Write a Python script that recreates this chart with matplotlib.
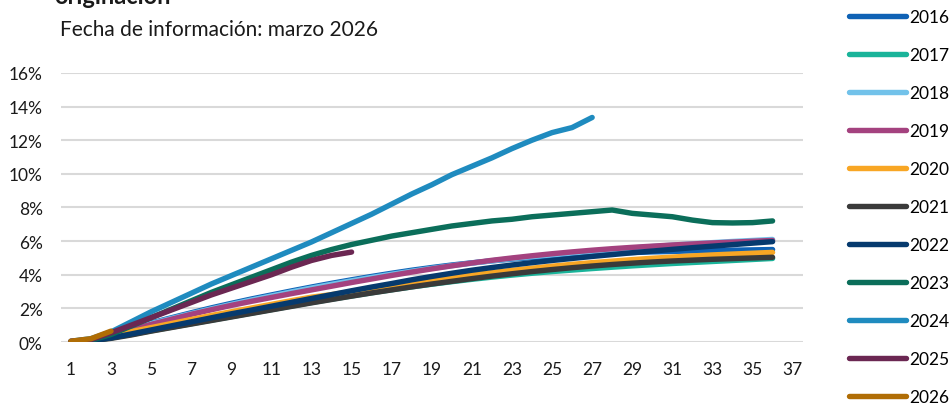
import matplotlib.pyplot as plt
from matplotlib.ticker import FuncFormatter

plt.rcParams['font.family'] = ['Lato', 'DejaVu Sans']

# meses desde originacion
months = list(range(1, 37))
years = ['2016', '2017', '2018', '2019', '2020', '2021', '2022', '2023', '2024', '2025', '2026']
colors = ['#0f62b5', '#1ab49a', '#72c2ea', '#a4427f', '#f8a624', '#3a3a3a',
          '#063a6e', '#0b6e5a', '#1f8bbf', '#6b2752', '#b06d05']

# valores en %
v2016 = [0.0, 0.15, 0.5, 0.82, 1.13, 1.44, 1.74, 2.03, 2.3, 2.56, 2.8, 3.04, 3.27, 3.49, 3.7, 3.9,
         4.09, 4.27, 4.43, 4.58, 4.71, 4.83, 4.93, 5.02, 5.1, 5.17, 5.23, 5.28, 5.32, 5.36, 5.39,
         5.42, 5.44, 5.46, 5.48, 5.5]
v2017 = [0.0, 0.08, 0.25, 0.45, 0.67, 0.88, 1.09, 1.3, 1.51, 1.72, 1.93, 2.14, 2.35, 2.55, 2.74,
         2.93, 3.11, 3.28, 3.44, 3.59, 3.73, 3.86, 3.98, 4.09, 4.19, 4.28, 4.37, 4.45, 4.53, 4.6,
         4.67, 4.73, 4.79, 4.85, 4.91, 4.97]
v2018 = [0.0, 0.15, 0.48, 0.8, 1.1, 1.4, 1.69, 1.97, 2.24, 2.5, 2.74, 2.98, 3.21, 3.43, 3.64, 3.84,
         4.03, 4.21, 4.38, 4.54, 4.69, 4.83, 4.96, 5.08, 5.19, 5.3, 5.4, 5.5, 5.59, 5.68, 5.76,
         5.84, 5.91, 5.98, 6.04, 6.1]
v2019 = [0.0, 0.15, 0.45, 0.75, 1.05, 1.35, 1.65, 1.92, 2.18, 2.42, 2.65, 2.88, 3.1, 3.32, 3.54,
         3.75, 3.96, 4.16, 4.35, 4.53, 4.7, 4.86, 5.0, 5.13, 5.25, 5.36, 5.46, 5.55, 5.63, 5.7,
         5.77, 5.83, 5.89, 5.94, 5.99, 6.04]
v2020 = [0.0, 0.12, 0.38, 0.62, 0.86, 1.1, 1.34, 1.58, 1.8, 2.02, 2.24, 2.46, 2.67, 2.82, 3.0,
         3.18, 3.35, 3.52, 3.68, 3.84, 3.99, 4.13, 4.26, 4.39, 4.51, 4.62, 4.72, 4.81, 4.9, 4.98,
         5.05, 5.12, 5.18, 5.23, 5.28, 5.33]
v2021 = [0.0, 0.08, 0.22, 0.42, 0.65, 0.86, 1.07, 1.28, 1.49, 1.7, 1.91, 2.12, 2.33, 2.53, 2.73,
         2.92, 3.1, 3.28, 3.45, 3.61, 3.77, 3.92, 4.06, 4.19, 4.31, 4.42, 4.52, 4.61, 4.69, 4.76,
         4.82, 4.87, 4.92, 4.96, 5.0, 5.04]
v2022 = [0.0, 0.08, 0.25, 0.48, 0.72, 0.96, 1.2, 1.44, 1.68, 1.9, 2.13, 2.36, 2.59, 2.82, 3.05,
         3.27, 3.48, 3.7, 3.9, 4.09, 4.27, 4.43, 4.58, 4.72, 4.85, 4.97, 5.09, 5.2, 5.31, 5.41,
         5.51, 5.61, 5.7, 5.79, 5.88, 5.97]
v2023 = [0.0, 0.1, 0.45, 0.95, 1.45, 1.95, 2.45, 2.95, 3.4, 3.85, 4.3, 4.75, 5.15, 5.5, 5.8, 6.05,
         6.3, 6.5, 6.7, 6.9, 7.05, 7.2, 7.3, 7.45, 7.55, 7.65, 7.75, 7.85, 7.65, 7.55, 7.45, 7.25,
         7.1, 7.08, 7.1, 7.2]
v2024 = [0.05, 0.2, 0.6, 1.2, 1.8, 2.35, 2.9, 3.45, 3.95, 4.45, 4.95, 5.45, 5.95, 6.5, 7.05, 7.6,
         8.2, 8.8, 9.35, 9.95, 10.45, 10.95, 11.5, 12.0, 12.45, 12.75, 13.35]
v2025 = [0.05, 0.15, 0.55, 1.0, 1.45, 1.9, 2.35, 2.8, 3.2, 3.6, 4.0, 4.45, 4.85, 5.15, 5.35]
v2026 = [0.05, 0.2, 0.65]

series = [v2016, v2017, v2018, v2019, v2020, v2021, v2022, v2023, v2024, v2025, v2026]

fig = plt.figure(figsize=(9.51, 4.06), dpi=100)
ax = fig.add_axes([0.064, 0.155, 0.78, 0.663])

for yr, vals, c in zip(years, series, colors):
    ax.plot(months[:len(vals)], [v / 100 for v in vals], color=c, lw=3.9,
            solid_capstyle='round', solid_joinstyle='round', label=yr)

ax.set_xlim(0.5, 37.5)
ax.set_ylim(0, 0.16)
ax.set_xticks(range(1, 38, 2))
ax.set_yticks([i / 100 for i in range(0, 17, 2)])
ax.yaxis.set_major_formatter(FuncFormatter(lambda v, p: f'{v * 100:.0f}%'))
ax.grid(axis='y', color='#d9d9d9', lw=1.5)
ax.set_axisbelow(True)
for s in ax.spines.values():
    s.set_visible(False)
ax.tick_params(length=0, labelsize=12.5, colors='#1a1a1a')
ax.tick_params(axis='y', pad=13)
ax.tick_params(axis='x', pad=13.5)

fig.text(0.057, 0.99, 'originación', fontsize=17, fontweight='bold', va='baseline',
         color='#1a1a1a')
fig.text(0.063, 0.927, 'Fecha de información: marzo 2026', fontsize=15, va='center',
         color='#1a1a1a')

fig.legend(loc='upper left', bbox_to_anchor=(0.885, 0.993), frameon=False, fontsize=12.5,
           handlelength=3.3, handletextpad=0.2, labelspacing=1.27, borderaxespad=0)

fig.savefig('out.png', dpi=100)
